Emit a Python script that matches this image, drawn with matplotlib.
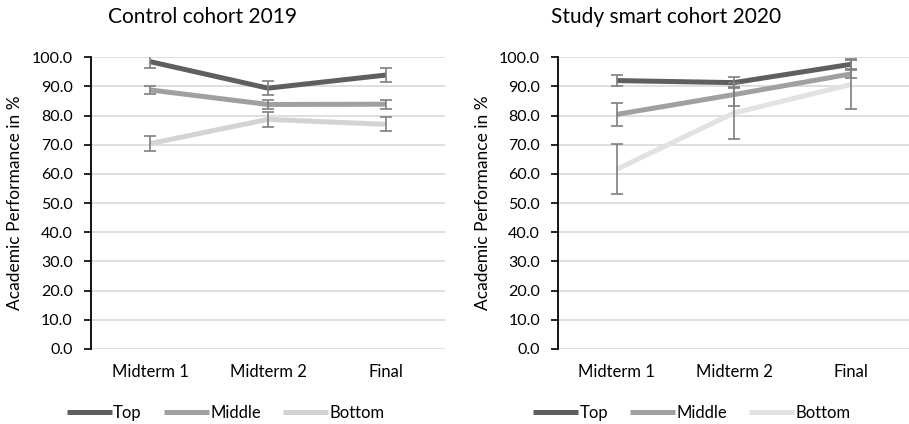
import matplotlib.pyplot as plt

plt.rcParams['font.family'] = ['Lato', 'DejaVu Sans']

exams = ['Midterm 1', 'Midterm 2', 'Final']
groups = ['Top', 'Middle', 'Bottom']

# Control cohort 2019: mean score and error per group
control_top = [98.5, 89.4, 93.9]
control_top_err = [2.3, 2.5, 2.5]
control_mid = [88.8, 83.8, 83.9]
control_mid_err = [1.5, 1.5, 1.6]
control_bot = [70.4, 78.7, 77.0]
control_bot_err = [2.5, 2.5, 2.4]

# Study smart cohort 2020
smart_top = [92.0, 91.3, 97.6]
smart_top_err = [2.0, 2.0, 1.7]
smart_mid = [80.4, 87.2, 94.3]
smart_mid_err = [3.9, 3.9, 1.4]
smart_bot = [61.6, 80.9, 90.7]
smart_bot_err = [8.5, 8.8, 8.4]

yticks = [0, 10, 20, 30, 40, 50, 60, 70, 80, 90, 100]

fig = plt.figure(figsize=(9.09, 4.24), dpi=100)
ax1 = fig.add_axes([0.1001, 0.177, 0.3894, 0.688])
ax2 = fig.add_axes([0.6139, 0.177, 0.3872, 0.688])


def draw_panel(ax, series, errors, colors):
    x = list(range(len(exams)))
    for vals, name, col in zip(series, groups, colors):
        ax.plot(x, vals, color=col, linewidth=3.6, label=name, zorder=3,
                solid_capstyle='butt')
    for vals, err in zip(series, errors):
        ax.errorbar(x, vals, yerr=err, fmt='none', ecolor='#7f7f7f',
                    elinewidth=1.2, capsize=4, capthick=1.2, zorder=4)
    ax.set_xlim(-0.5, 2.5)
    ax.set_ylim(0, 100)
    ax.set_xticks(x)
    ax.set_xticklabels(exams, fontsize=12)
    ax.set_yticks(yticks)
    ax.set_yticklabels([f'{v:.1f}' for v in yticks], fontsize=11.5)
    ax.tick_params(axis='x', length=0, pad=11)
    ax.tick_params(axis='y', length=5, width=1.2, direction='out', pad=8)
    ax.grid(axis='y', color='#d9d9d9', linewidth=1.2, zorder=0)
    ax.set_axisbelow(True)
    for side in ['top', 'right', 'bottom']:
        ax.spines[side].set_visible(False)
    ax.spines['left'].set_linewidth(1.3)
    ax.spines['left'].set_zorder(5)
    ax.set_ylabel('Academic Performance in %', fontsize=12.5, labelpad=6)
    ax.legend(loc='center', bbox_to_anchor=(0.38, -0.22), ncol=3,
              frameon=False, fontsize=12, handlelength=2.7, handletextpad=0.1,
              columnspacing=1.3)


draw_panel(ax1, [control_top, control_mid, control_bot],
           [control_top_err, control_mid_err, control_bot_err],
           ['#5f5f5f', '#a0a0a0', '#d3d3d3'])
draw_panel(ax2, [smart_top, smart_mid, smart_bot],
           [smart_top_err, smart_mid_err, smart_bot_err],
           ['#5f5f5f', '#a0a0a0', '#e2e2e2'])

fig.text(203 / 909, 1 - 17 / 424, 'Control cohort 2019', ha='center', va='center', fontsize=15)
fig.text(666 / 909, 1 - 17 / 424, 'Study smart cohort 2020', ha='center', va='center', fontsize=15)

fig.savefig('out.png', dpi=100)
